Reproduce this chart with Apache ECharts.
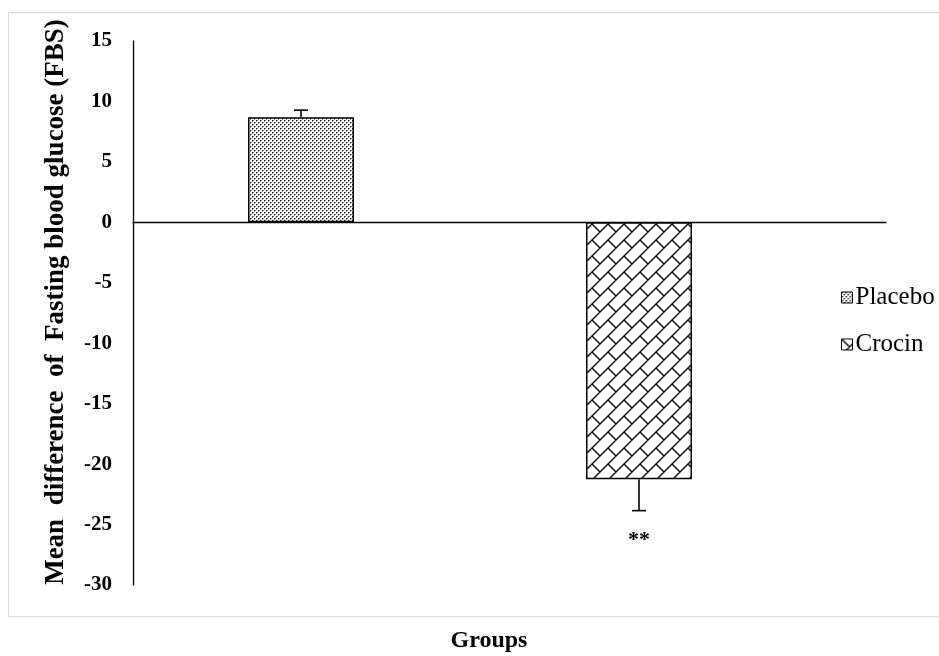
<!DOCTYPE html>
<html>
<head>
<meta charset="utf-8">
<script src="https://cdn.jsdelivr.net/npm/echarts@6/dist/echarts.min.js"></script>
<style>html,body{margin:0;padding:0;background:#fff}#c{width:939px;height:656px}</style>
</head>
<body>
<div id="c"></div>
<script>
const categories = ['Placebo', 'Crocin'];
const placeboValues = [8.7, '-'];
const crocinValues = ['-', -21.25];
const errorValues = [0.58, 2.6];
const significance = ['', '**'];
const yMin = -30, yMax = 15, yInterval = 5;
const yTitle = 'Mean  difference  of  Fasting blood glucose (FBS)';
const xTitle = 'Groups';

function dotPattern() {
  const c = document.createElement('canvas');
  c.width = 4; c.height = 4;
  const g = c.getContext('2d');
  g.fillStyle = '#fff'; g.fillRect(0, 0, 4, 4);
  g.fillStyle = '#111';
  g.fillRect(0, 0, 1, 1);
  g.fillRect(2, 2, 1, 1);
  g.fillStyle = '#8a8a8a';
  g.fillRect(1, 0, 1, 1);
  g.fillRect(3, 2, 1, 1);
  g.fillRect(0, 1, 1, 1);
  g.fillRect(2, 3, 1, 1);
  return c;
}
function brickPattern() {
  const s = 16;
  const c = document.createElement('canvas');
  c.width = s; c.height = s;
  const g = c.getContext('2d');
  g.fillStyle = '#fff'; g.fillRect(0, 0, s, s);
  g.strokeStyle = '#111'; g.lineWidth = 1.5;
  g.beginPath();
  for (const k of [0, s, 2 * s]) { g.moveTo(k + 2, -2); g.lineTo(k - s - 2, s + 2); }
  for (const dx of [-s, 0, s]) for (const dy of [-s, 0, s]) {
    g.moveTo(dx, dy); g.lineTo(dx + s / 2, dy + s / 2);
  }
  g.stroke();
  return c;
}

const chart = echarts.init(document.getElementById('c'));
const serif = '"Liberation Serif", "Times New Roman", serif';
const dotFill = { image: dotPattern(), repeat: 'repeat' };
const brickFill = { image: brickPattern(), repeat: 'repeat' };

chart.setOption({
  animation: false,
  backgroundColor: '#fff',
  graphic: [
    { type: 'rect', shape: { x: 8.5, y: 12.5, width: 960, height: 604 }, style: { fill: 'none', stroke: '#d9d9d9', lineWidth: 1 }, z: -1 },
    { type: 'text', x: 56, y: 302, rotation: Math.PI / 2,
      style: { text: yTitle, textAlign: 'center', textVerticalAlign: 'middle', font: 'bold 27px ' + serif, fill: '#000' } },
    { type: 'text', x: 489, y: 641,
      style: { text: xTitle, textAlign: 'center', textVerticalAlign: 'middle', font: 'bold 24px ' + serif, fill: '#000' } }
  ],
  legend: {
    orient: 'vertical', left: 836, top: 280, itemGap: 22,
    itemWidth: 11, itemHeight: 11, icon: 'rect',
    textStyle: { fontFamily: serif, fontSize: 25, color: '#000', padding: [0, 0, 0, -2] },
    itemStyle: { borderColor: '#000', borderWidth: 1 },
    data: categories
  },
  grid: [
    { left: 133, right: 53, top: 41, bottom: 71 },
    { left: 132, right: 131, top: 41, bottom: 71 }
  ],
  xAxis: [
    { type: 'category', gridIndex: 0, data: categories,
      axisLine: { onZero: true, lineStyle: { color: '#000', width: 1.3 } },
      axisTick: { show: false }, axisLabel: { show: false } },
    { type: 'category', gridIndex: 1, data: categories, show: false }
  ],
  yAxis: [
    { type: 'value', gridIndex: 0, min: yMin, max: yMax, interval: yInterval,
      axisLine: { show: true, onZero: false, lineStyle: { color: '#000', width: 1.3 } },
      axisTick: { show: false }, splitLine: { show: false },
      axisLabel: { margin: 21, fontFamily: serif, fontWeight: 'bold', fontSize: 21, color: '#000' } },
    { type: 'value', gridIndex: 1, min: yMin, max: yMax, interval: yInterval, show: false, splitLine: { show: false } }
  ],
  series: [
    { name: 'Placebo', type: 'bar', xAxisIndex: 1, yAxisIndex: 1, data: placeboValues,
      barWidth: 106, barGap: '-100%',
      itemStyle: { color: dotFill, borderColor: '#000', borderWidth: 1.5 } },
    { name: 'Crocin', type: 'bar', xAxisIndex: 1, yAxisIndex: 1, data: crocinValues,
      barWidth: 106, barGap: '-100%',
      itemStyle: { color: brickFill, borderColor: '#000', borderWidth: 1.5 },
      label: { show: true, position: 'bottom', distance: 50,
        formatter: p => significance[p.dataIndex],
        fontFamily: serif, fontWeight: 'bold', fontSize: 22, color: '#000' } },
    { type: 'custom', xAxisIndex: 1, yAxisIndex: 1, z: 5, silent: true,
      data: categories.map((c, i) => {
        const v = i === 0 ? placeboValues[0] : crocinValues[1];
        const end = v >= 0 ? v + errorValues[i] : v - errorValues[i];
        return [i, v, end];
      }),
      renderItem: (params, api) => {
        const a = api.coord([api.value(0), api.value(1)]);
        const b = api.coord([api.value(0), api.value(2)]);
        const st = { stroke: '#000', lineWidth: 1.6 };
        return { type: 'group', children: [
          { type: 'line', shape: { x1: a[0], y1: a[1], x2: b[0], y2: b[1] }, style: st },
          { type: 'line', shape: { x1: b[0] - 7, y1: b[1], x2: b[0] + 7, y2: b[1] }, style: st }
        ] };
      } }
  ]
});
</script>
</body>
</html>
